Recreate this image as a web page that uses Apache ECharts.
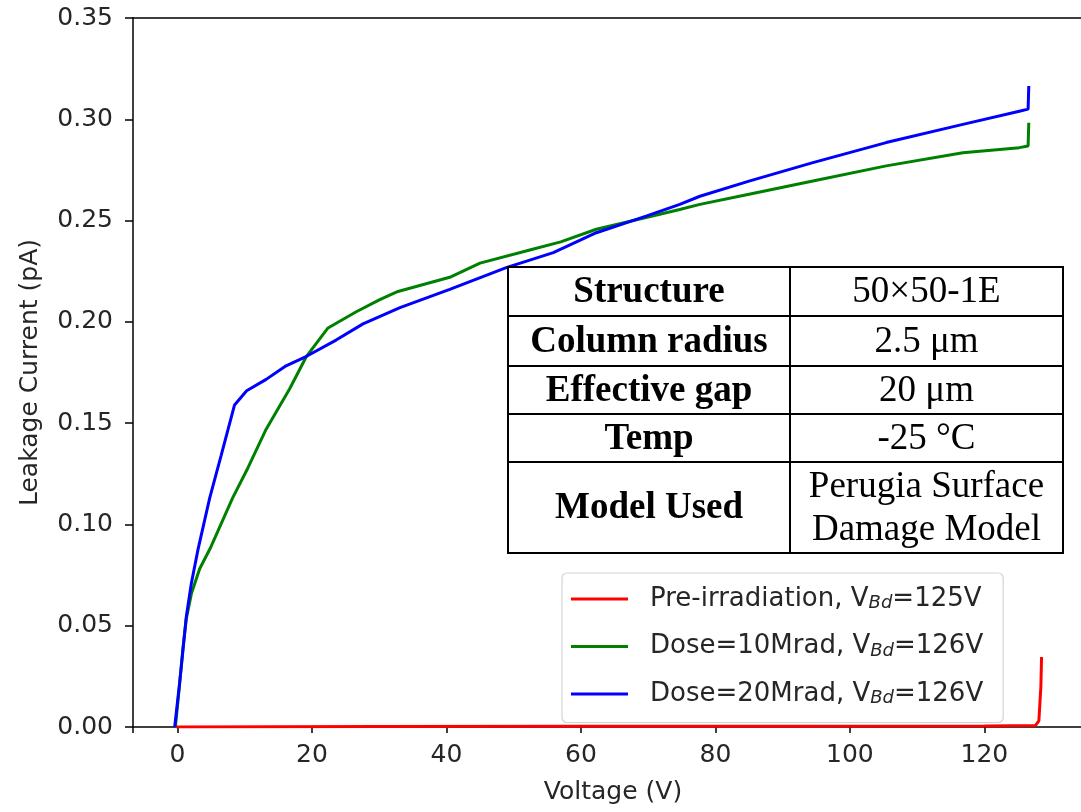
<!DOCTYPE html>
<html>
<head>
<meta charset="utf-8">
<script src="https://cdn.jsdelivr.net/npm/echarts@6/dist/echarts.min.js"></script>
<style>
  html, body { margin: 0; padding: 0; background: #fff; }
  #chart { width: 1081px; height: 812px; }
</style>
</head>
<body>
<div id="chart"></div>
<script>
// pre-irradiation
const preV = [-0.2, 0, 30, 60, 90, 120, 127.6, 128.1, 128.4, 128.5];
const preI = [0, 0.0003, 0.0003, 0.0004, 0.0004, 0.0005, 0.0008, 0.003, 0.02, 0.0346];

// dose = 10 Mrad
const d10V = [-0.3, 0.3, 0.8, 1.3, 2.1, 3.3, 5, 8.2, 10.5, 13.2, 16.7, 19.2, 22.4, 26.6, 30.1, 32.8,
  40.5, 45, 52.4, 57, 62.3, 69.7, 74.7, 77.7, 85, 94.5, 105.4, 116.8, 125.2, 126.5, 126.6];
const d10I = [0, 0.02, 0.038, 0.053, 0.066, 0.078, 0.089, 0.113, 0.128, 0.147, 0.167, 0.183, 0.197, 0.205, 0.211, 0.215,
  0.222, 0.229, 0.2355, 0.2395, 0.2457, 0.2515, 0.2555, 0.258, 0.263, 0.2695, 0.277, 0.2835, 0.286, 0.2868, 0.2983];

// dose = 20 Mrad
const d20V = [-0.4, 0.34, 0.83, 1.34, 2.08, 3.07, 4.8, 6.5, 8.5, 10.3, 13.2, 16, 19.2, 23.6, 27.6, 33.1,
  40.5, 48.9, 55.9, 62.3, 69.7, 74.7, 77.7, 85, 94.5, 105.4, 116.8, 125.2, 126.5, 126.6];
const d20I = [0, 0.022, 0.038, 0.0548, 0.071, 0.0877, 0.113, 0.134, 0.159, 0.166, 0.1716, 0.178, 0.183, 0.191, 0.199, 0.207,
  0.216, 0.2268, 0.2342, 0.244, 0.2522, 0.258, 0.262, 0.2695, 0.2786, 0.2885, 0.2975, 0.304, 0.305, 0.3164];

const seriesNames = ['Pre-irradiation', 'Dose=10Mrad', 'Dose=20Mrad'];
const breakdown = ['125V', '126V', '126V'];
const seriesColors = ['#ff0000', '#008000', '#0000ff'];

// table
const tableKeys = ['Structure', 'Column radius', 'Effective gap', 'Temp', 'Model Used'];
const tableVals = ['50×50-1E', '2.5 μm', '20 μm', '-25 °C', 'Perugia Surface\nDamage Model'];

const pairs = (xs, ys) => xs.map((x, i) => [x, ys[i]]);
const allData = [pairs(preV, preI), pairs(d10V, d10I), pairs(d20V, d20I)];

const chart = echarts.init(document.getElementById('chart'));

// table geometry (annotation box, pixel space)
const tb = { x: 508, y: 267, w: 555, col: 790, rows: [267, 316, 366, 414, 462, 553] };
const tableGraphic = [];
tableGraphic.push({
  type: 'rect', shape: { x: tb.x, y: tb.y, width: tb.w, height: tb.rows[5] - tb.rows[0] },
  style: { fill: '#fff', stroke: '#000', lineWidth: 2 }, z: 100
});
tableGraphic.push({
  type: 'line', shape: { x1: tb.col, y1: tb.rows[0], x2: tb.col, y2: tb.rows[5] },
  style: { stroke: '#000', lineWidth: 2 }, z: 101
});
for (let i = 1; i < 5; i++) {
  tableGraphic.push({
    type: 'line', shape: { x1: tb.x, y1: tb.rows[i], x2: tb.x + tb.w, y2: tb.rows[i] },
    style: { stroke: '#000', lineWidth: 2 }, z: 101
  });
}
tableKeys.forEach((k, i) => {
  const cy = (tb.rows[i] + tb.rows[i + 1]) / 2 + 1;
  tableGraphic.push({
    type: 'text', x: (tb.x + tb.col) / 2, y: cy, z: 102,
    style: { text: k, fontFamily: 'Liberation Serif', fontWeight: 'bold', fontSize: 37,
      fill: '#000', align: 'center', verticalAlign: 'middle' }
  });
  tableGraphic.push({
    type: 'text', x: (tb.col + tb.x + tb.w) / 2, y: cy, z: 102,
    style: { text: tableVals[i], fontFamily: 'Liberation Serif', fontSize: 37, lineHeight: 43,
      fill: '#000', align: 'center', verticalAlign: 'middle' }
  });
});

const axisFont = { fontFamily: 'DejaVu Sans', fontSize: 25, color: '#262626' };

const option = {
  animation: false,
  backgroundColor: '#fff',
  grid: { left: 133, top: 18, width: 960, height: 709, outerBoundsMode: 'none', containLabel: false },
  legend: {
    orient: 'vertical',
    left: 562, top: 573,
    padding: [13, 20, 15, 9],
    itemGap: 21,
    itemWidth: 57, itemHeight: 3,
    icon: 'rect',
    backgroundColor: '#fff',
    borderColor: '#d4d4d4', borderWidth: 1.2, borderRadius: 5,
    data: seriesNames,
    formatter: name => {
      const i = seriesNames.indexOf(name);
      return name + ', V{sub|Bd}=' + breakdown[i];
    },
    textStyle: {
      fontFamily: 'DejaVu Sans', fontSize: 26, color: '#262626', padding: [0, 0, 0, 17],
      rich: { sub: { fontFamily: 'DejaVu Sans', fontSize: 18, fontStyle: 'italic', color: '#262626', padding: [9, 0, 0, 0] } }
    },
    z: 50
  },
  xAxis: [{
    type: 'value', min: -6.6, max: 136.15, splitNumber: 7, minInterval: 20, maxInterval: 20,
    name: 'Voltage (V)', nameLocation: 'middle', nameGap: 53,
    nameTextStyle: axisFont,
    axisLine: { onZero: false, lineStyle: { color: '#000', width: 1.5 } },
    axisTick: { length: 6, lineStyle: { color: '#000', width: 1.5 } },
    axisLabel: Object.assign({ margin: 16 }, axisFont, {
      formatter: v => (Math.abs(v % 20) < 1e-6 ? String(v) : '')
    }),
    splitLine: { show: false }
  }, {
    // top spine only
    type: 'value', position: 'top', min: -6.6, max: 136.15,
    axisLine: { onZero: false, lineStyle: { color: '#000', width: 1.5 } },
    axisTick: { show: false }, axisLabel: { show: false }, splitLine: { show: false }
  }],
  yAxis: {
    type: 'value', min: 0, max: 0.35, interval: 0.05,
    name: 'Leakage Current (pA)', nameLocation: 'middle', nameGap: 90,
    nameTextStyle: axisFont,
    axisLine: { onZero: false, lineStyle: { color: '#000', width: 1.5 } },
    axisTick: { length: 8, lineStyle: { color: '#000', width: 1.5 } },
    axisLabel: Object.assign({ margin: 20 }, axisFont, { formatter: v => v.toFixed(2) }),
    splitLine: { show: false }
  },
  series: seriesNames.map((n, i) => ({
    name: n,
    type: 'line',
    data: allData[i],
    showSymbol: false,
    symbol: 'none',
    color: seriesColors[i],
    lineStyle: { color: seriesColors[i], width: 3 },
    z: 2 + i
  })),
  graphic: tableGraphic
};

chart.setOption(option);
</script>
</body>
</html>
